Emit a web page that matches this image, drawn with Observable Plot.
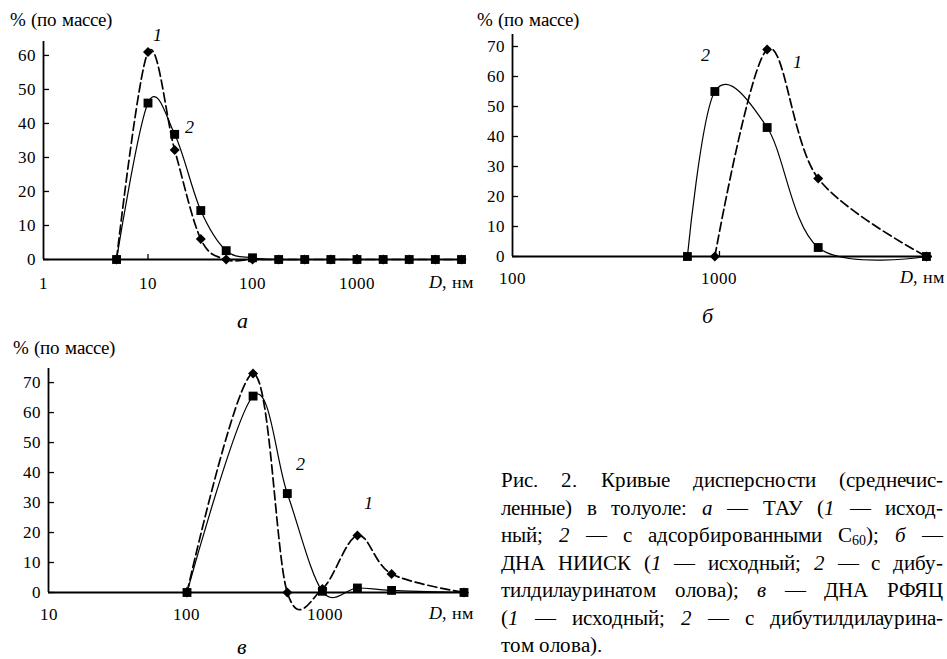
<!DOCTYPE html>
<html><head><meta charset="utf-8">
<script src="https://cdn.jsdelivr.net/npm/d3@7"></script>
<script src="https://cdn.jsdelivr.net/npm/@observablehq/plot@0.6"></script>
<style>
@font-face{font-family:'FigSerif';src:local('Liberation Serif'),local('LiberationSerif'),local('Times New Roman');font-style:normal;font-weight:400;}
@font-face{font-family:'FigSerif';src:local('Liberation Serif Italic'),local('LiberationSerif-Italic'),local('Times New Roman Italic');font-style:italic;font-weight:400;}
body{margin:0;background:#fff;font-family:FigSerif, serif;}
#fig{position:relative;width:947px;height:659px;overflow:hidden;color:#000;background:#fff;font-family:FigSerif, serif;}
#fig *{font-family:FigSerif, serif;}
.abs{position:absolute;white-space:nowrap;}
.ttl{font-size:19px;line-height:19px;}
.dl{font-size:18px;line-height:18px;}
.pl{font-size:22px;line-height:22px;font-style:italic;transform:translateX(-50%);}
#cap{position:absolute;left:501px;top:467px;width:442px;font-size:21px;line-height:27.5px;}
#cap div{text-align:justify;text-align-last:justify;white-space:nowrap;}
#cap div.last{text-align-last:left;}
sub{font-size:0.65em;vertical-align:-0.2em;line-height:0;}
#fig svg{position:absolute;}
</style></head><body><div id="fig"></div>
<script>
const FONT = "FigSerif, serif";
// Panel а: ТАУ
const aD  = [5, 10, 18, 32, 56, 100, 178, 316, 562, 1000, 1780, 3160, 5620, 10000];
const a1  = [0, 61, 32.2, 6, 0, 0, 0, 0, 0, 0, 0, 0, 0, 0];
const a2  = [0, 46, 36.8, 14.4, 2.6, 0.5, 0, 0, 0, 0, 0, 0, 0, 0];
const aLabels = [{x: 12.3, y: 65.9, t: "1"}, {x: 25, y: 38.9, t: "2"}];
// Panel б: ДНА НИИСК
const bD  = [700, 950, 1700, 3000, 10000];
const b1  = [null, 0, 69, 26, 0];
const b2  = [0, 55, 43, 3, 0];
const bLabels = [{x: 855, y: 67, t: "2"}, {x: 2380, y: 64.7, t: "1"}];
// Panel в: ДНА РФЯЦ
const cD  = [100, 300, 530, 950, 1700, 3000, 10000];
const c1  = [0, 73, 0, 1.2, 19, 6.2, 0];
const c2  = [0, 65.5, 33, 0.4, 1.5, 0.7, 0];
const cLabels = [{x: 659, y: 42.7, t: "2"}, {x: 2040, y: 29.7, t: "1"}];

const yTicks = {a: [0,10,20,30,40,50,60], b: [0,10,20,30,40,50,60,70], c: [0,10,20,30,40,50,60,70]};
const xTicks = {a: [1,10,100,1000], b: [100,1000], c: [10,100,1000]};

const fig = document.getElementById("fig");

function panel(o) {
  const p1 = o.D.map((d,i)=>({x:d, y:o.s1[i]})).filter(p=>p.y!=null);
  const p2 = o.D.map((d,i)=>({x:d, y:o.s2[i]})).filter(p=>p.y!=null);
  const chart = Plot.plot({
    width: o.width, height: o.height,
    marginLeft: o.ml, marginRight: o.mr, marginTop: o.mt, marginBottom: o.mb,
    x: {type: "log", domain: o.xDomain},
    y: {domain: o.yDomain},
    style: {fontFamily: FONT, fontSize: "17px", color: "#000", background: "transparent", overflow: "visible"},
    marks: [
      Plot.axisY({ticks: o.yt, tickSize: -6, text: null, strokeWidth: 1.3, label: null}),
      Plot.axisY({ticks: o.yt, tickSize: 0, tickPadding: 8, fontSize: 17, fontFamily: FONT, label: null}),
      Plot.axisX({ticks: o.xt.filter(v => v !== o.xDomain[0]), tickSize: -5, text: null, strokeWidth: 1.3, label: null}),
      Plot.axisX({ticks: o.xt, tickSize: 0, tickPadding: o.xpad, fontSize: 17, fontFamily: FONT, label: null, tickFormat: d => String(d)}),
      Plot.ruleY([0], {strokeWidth: 1.8}),
      Plot.ruleX([o.xDomain[0]], {strokeWidth: 1.8}),
      Plot.line(p1, {x: "x", y: "y", curve: "cardinal", tension: 0, strokeDasharray: "9,4", strokeWidth: 1.7}),
      Plot.line(p2, {x: "x", y: "y", curve: "cardinal", tension: 0, strokeWidth: 1.2}),
      Plot.dot(p1, {x: "x", y: "y", symbol: "diamond2", r: 4.5, fill: "black", stroke: "none"}),
      Plot.dot(p2, {x: "x", y: "y", symbol: "square", r: 5, fill: "black", stroke: "none"}),
      Plot.text(o.labels, {x: "x", y: "y", text: "t", fontStyle: "italic", fontSize: 18, fontFamily: FONT})
    ]
  });
  chart.style.left = o.left + "px";
  chart.style.top = o.top + "px";
  fig.appendChild(chart);
}

panel({D: aD, s1: a1, s2: a2, labels: aLabels, yt: yTicks.a, xt: xTicks.a,
  left: 0, top: 0, width: 480, height: 300, ml: 43, mr: 17, mt: 41, mb: 41,
  xDomain: [1, 10450], yDomain: [0, 64.1], xpad: 17});
panel({D: bD, s1: b1, s2: b2, labels: bLabels, yt: yTicks.b, xt: xTicks.b,
  left: 480, top: 0, width: 467, height: 300, ml: 32, mr: 15, mt: 34, mb: 44,
  xDomain: [100, 10700], yDomain: [0, 74], xpad: 15});
panel({D: cD, s1: c1, s2: c2, labels: cLabels, yt: yTicks.c, xt: xTicks.c,
  left: 0, top: 330, width: 480, height: 300, ml: 48, mr: 13, mt: 38, mb: 38,
  xDomain: [10, 10600], yDomain: [0, 74.7], xpad: 15.5});

function addText(cls, html, left, top, right) {
  const s = document.createElement("span");
  s.className = "abs " + cls;
  s.innerHTML = html;
  if (right != null) s.style.right = right + "px"; else s.style.left = left + "px";
  s.style.top = top + "px";
  fig.appendChild(s);
}
const yTitle = "% (по массе)";
const xTitle = "<i>D</i>, нм";
addText("ttl", yTitle, 10, 10);
addText("ttl", yTitle, 477, 10);
addText("ttl", yTitle, 13, 338);
addText("dl", xTitle, null, 273.4, 947 - 473);
addText("dl", xTitle, null, 268, 947 - 944);
addText("dl", xTitle, null, 604.4, 947 - 473);
addText("pl", "а", 242, 309.6);
addText("pl", "б", 707, 304.6);
addText("pl", "в", 242, 636);

const capLines = [
  "Рис. 2. Кривые дисперсности (среднечис-",
  "ленные) в толуоле: <i>а</i> — ТАУ (<i>1</i> — исход-",
  "ный; <i>2</i> — с адсорбированными С<sub>60</sub>); <i>б</i> —",
  "ДНА НИИСК (<i>1</i> — исходный; <i>2</i> — с дибу-",
  "тилдилауринатом олова); <i>в</i> — ДНА РФЯЦ",
  "(<i>1</i> — исходный; <i>2</i> — с дибутилдилаурина-",
  "том олова)."
];
const cap = document.createElement("div");
cap.id = "cap";
cap.innerHTML = capLines.map((l,i)=>`<div${i===capLines.length-1?' class="last"':''}>${l}</div>`).join("");
fig.appendChild(cap);
</script>
</body></html>
